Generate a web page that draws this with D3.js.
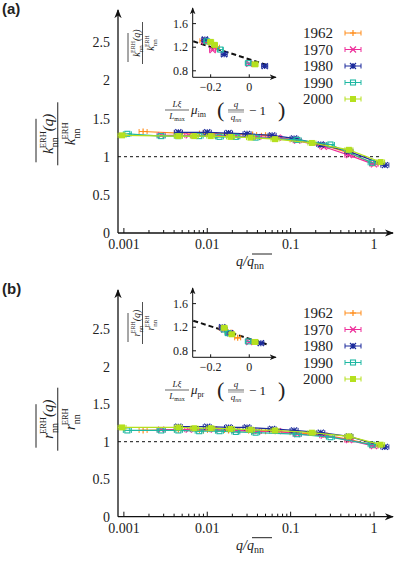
<!DOCTYPE html><html><head><meta charset="utf-8">
<script src="https://cdn.jsdelivr.net/npm/d3@7"></script>
<style>body{margin:0;background:#fff}svg text{font-family:"Liberation Serif","DejaVu Serif",serif;fill:#222}</style>
</head><body><svg id="c" width="415" height="569"></svg>
<script>
const years=["1962","1970","1980","1990","2000"];
const colors=["#ff8c1a","#ee2e9a","#1c2b9c","#1fb8a3","#b5e01e"];
const xTicks=[0.001,0.01,0.1,1], xTickLabels=["0.001","0.01","0.1","1"];
const yTicks=[0,0.5,1,1.5,2,2.5], yTickLabels=["0","0.5","1","1.5","2","2.5"];
const inYTicks=[0.8,1.2,1.6], inXTicks=[-0.2,0];
const aX=[[0.0017,0.0045,0.009,0.018,0.035,0.05,0.11,0.25,0.5,1.0],
 [0.0028,0.006,0.012,0.022,0.04,0.07,0.12,0.25,0.5,1.0],
 [0.0045,0.01,0.018,0.03,0.06,0.11,0.23,0.5,1.35],
 [0.0011,0.0028,0.0045,0.008,0.014,0.022,0.038,0.12,0.3,0.95],
 [0.00095,0.0045,0.007,0.011,0.019,0.033,0.065,0.18,0.5,1.2]];
const aY=[[1.33,1.31,1.31,1.30,1.29,1.28,1.22,1.15,1.05,0.91],
 [1.28,1.28,1.28,1.27,1.26,1.25,1.21,1.13,1.02,0.90],
 [1.32,1.32,1.31,1.30,1.28,1.24,1.16,1.07,0.89],
 [1.30,1.27,1.27,1.27,1.26,1.26,1.25,1.22,1.16,0.92],
 [1.28,1.27,1.27,1.27,1.26,1.25,1.23,1.18,1.09,0.93]];
const aInX=[[-0.24,-0.21,-0.17],[-0.23,-0.19,0.0],[-0.23,-0.13,0.08],[-0.22,-0.15,-0.005],[-0.2,-0.18,0.03]];
const aInY=[[1.31,1.28,1.2],[1.3,1.15,0.92],[1.33,1.08,0.88],[1.3,1.16,0.93],[1.29,1.24,0.91]];
const bX=aX;
const bY=[[1.15,1.16,1.15,1.15,1.14,1.14,1.12,1.09,1.03,0.95],
 [1.16,1.16,1.16,1.15,1.14,1.14,1.10,1.08,1.02,0.94],
 [1.20,1.20,1.19,1.19,1.17,1.15,1.12,1.07,0.93],
 [1.15,1.15,1.15,1.14,1.14,1.13,1.12,1.10,1.06,0.96],
 [1.19,1.19,1.18,1.18,1.17,1.16,1.15,1.12,1.07,0.96]];
const bInX=[[-0.14,-0.11,-0.06],[-0.13,-0.1,0.0],[-0.14,-0.1,0.06],[-0.13,-0.11,-0.005],[-0.13,-0.09,0.03]];
const bInY=[[1.18,1.12,1.02],[1.16,1.1,0.95],[1.2,1.1,0.93],[1.16,1.1,0.96],[1.19,1.08,0.95]];
const dashA=[[-0.29,1.30],[0.1,0.89]], dashB=[[-0.29,1.31],[0.1,0.9]];

const svg=d3.select("#c");
svg.append("defs").append("marker").attr("id","ar").attr("viewBox","0 0 10 10").attr("refX",9).attr("refY",5)
 .attr("markerWidth",7).attr("markerHeight",7).attr("orient","auto")
 .append("path").attr("d","M0,1L10,5L0,9L3,5Z").attr("fill","#111");

function marker(g,i,x,y,s){
  const c=colors[i];
  if(i===0){g.append("path").attr("d",`M${x-s},${y}H${x+s}M${x},${y-s}V${y+s}`).attr("stroke",c).attr("stroke-width",1.2);}
  else if(i===1){g.append("path").attr("d",`M${x-s},${y-s}L${x+s},${y+s}M${x-s},${y+s}L${x+s},${y-s}`).attr("stroke",c).attr("stroke-width",1.2);}
  else if(i===2){g.append("path").attr("d",`M${x-s},${y-s}L${x+s},${y+s}M${x-s},${y+s}L${x+s},${y-s}M${x-s},${y}H${x+s}M${x},${y-s}V${y+s}`).attr("stroke",c).attr("stroke-width",1.2);}
  else if(i===3){g.append("rect").attr("x",x-s+0.5).attr("y",y-s+0.5).attr("width",2*s-1).attr("height",2*s-1).attr("fill","none").attr("stroke",c).attr("stroke-width",1.1);}
  else {g.append("rect").attr("x",x-s).attr("y",y-s).attr("width",2*s).attr("height",2*s).attr("fill",c);}
}
function errbar(g,i,x,y,w){
  g.append("path").attr("d",`M${x-w},${y}H${x+w}M${x-w},${y-2.5}V${y+2.5}M${x+w},${y-2.5}V${y+2.5}`).attr("stroke",colors[i]).attr("stroke-width",1);
}
function symText(t,sym,y,fs,small,withQ){
  const n=t.append("text").attr("y",y).attr("font-size",fs).attr("font-style","italic");
  n.append("tspan").text(sym);
  n.append("tspan").attr("font-size",small).attr("font-style","normal").attr("dy",fs*0.3).text("nn");
  n.append("tspan").attr("font-size",small*0.85).attr("font-style","normal").attr("dy",-fs*0.8).attr("dx",-small*1.1).text("ERH");
  if(withQ) n.append("tspan").attr("dy",fs*0.5).text("(q)");
  return n;
}
function frac(g,x,y,sym,fs,small,lw){
  const t=g.append("g").attr("transform",`translate(${x},${y}) rotate(-90)`);
  const n=symText(t,sym,-fs*0.45,fs,small,true).attr("text-anchor","middle");
  t.append("line").attr("x1",-fs*1.9).attr("x2",fs*1.0).attr("y1",-fs*1.6).attr("y2",-fs*1.6).attr("stroke","#222").attr("stroke-width",lw);
  t.append("line").attr("x1",-fs*2.1).attr("x2",fs*2.1).attr("y1",-fs*0.15).attr("y2",-fs*0.15).attr("stroke","#222").attr("stroke-width",lw);
  symText(t,sym,fs*1.0,fs,small,false).attr("text-anchor","middle");
}

function panel(oy,letter,unit,y0,X,Y,IX,IY,dash,sym,mu){
  const g=svg.append("g");
  g.append("text").attr("x",2).attr("y",oy+14).attr("font-size",15).attr("font-weight","bold").style("font-family","Liberation Sans,Arial,sans-serif").text(letter);
  const x=d3.scaleLog().domain([0.00085,1.69]).range([118,393]);
  const y=d3.scaleLinear().domain([0,2.5]).range([y0,y0-2.5*unit]);
  g.append("line").attr("x1",118).attr("x2",393).attr("y1",y0).attr("y2",y0).attr("stroke","#111").attr("stroke-width",1.3).attr("marker-end","url(#ar)");
  g.append("line").attr("x1",118).attr("x2",118).attr("y1",y0).attr("y2",oy+10).attr("stroke","#111").attr("stroke-width",1.3).attr("marker-end","url(#ar)");
  const minor=[];
  for(let e=-3;e<=0;e++)for(let m=1;m<10;m++){const v=m*Math.pow(10,e);if(v>=0.00085&&v<=1.5)minor.push(v);}
  minor.forEach(v=>g.append("line").attr("x1",x(v)).attr("x2",x(v)).attr("y1",y0).attr("y2",y0-(xTicks.includes(v)?5:3)).attr("stroke","#111"));
  xTicks.forEach((v,i)=>g.append("text").attr("x",x(v)).attr("y",y0+16).attr("text-anchor","middle").attr("font-size",14).text(xTickLabels[i]));
  yTicks.forEach((v,i)=>g.append("text").attr("x",110).attr("y",y(v)+5).attr("text-anchor","end").attr("font-size",14).text(yTickLabels[i]));
  const xl=g.append("text").attr("x",250).attr("y",y0+33).attr("text-anchor","middle").attr("font-size",14).attr("font-style","italic");
  xl.append("tspan").text("q/");xl.append("tspan").text("q");
  xl.append("tspan").attr("font-size",10).attr("font-style","normal").attr("dy",3).text("nn");
  g.append("line").attr("x1",252).attr("x2",272).attr("y1",y0+21).attr("y2",y0+21).attr("stroke","#222");
  frac(g,60,y(1.3),sym,15,10,1);
  g.append("line").attr("x1",118).attr("x2",380).attr("y1",y(1)).attr("y2",y(1)).attr("stroke","#111").attr("stroke-dasharray","3,3");
  const line=d3.line().x(d=>x(d[0])).y(d=>y(d[1]));
  X.forEach((xs,i)=>{
    const pts=xs.map((v,j)=>[v,Y[i][j]]);
    g.append("path").attr("d",line(pts)).attr("fill","none").attr("stroke",colors[i]).attr("stroke-width",1.2);
    pts.forEach(p=>{errbar(g,i,x(p[0]),y(p[1]),4);marker(g,i,x(p[0]),y(p[1]),3);});
  });
  const ix=d3.scaleLinear().domain([-0.293,0.123]).range([192.7,273]);
  const iy=d3.scaleLinear().domain([0.69,1.6]).range([oy+77.3,oy+77.3-0.91*59]);
  g.append("line").attr("x1",192.7).attr("x2",276).attr("y1",iy(0.69)).attr("y2",iy(0.69)).attr("stroke","#111").attr("marker-end","url(#ar)");
  g.append("line").attr("x1",192.7).attr("x2",192.7).attr("y1",iy(0.69)).attr("y2",oy+8).attr("stroke","#111").attr("marker-end","url(#ar)");
  inYTicks.forEach(v=>{g.append("line").attr("x1",192.7).attr("x2",196).attr("y1",iy(v)).attr("y2",iy(v)).attr("stroke","#111");
    g.append("text").attr("x",188).attr("y",iy(v)+4).attr("text-anchor","end").attr("font-size",12).text(v.toFixed(1));});
  inXTicks.forEach(v=>{g.append("line").attr("x1",ix(v)).attr("x2",ix(v)).attr("y1",iy(0.69)).attr("y2",iy(0.69)-3).attr("stroke","#111");
    g.append("text").attr("x",ix(v)).attr("y",iy(0.69)+14).attr("text-anchor","middle").attr("font-size",12).text(v===0?"0":"\u22120.2");});
  const il=d3.line().x(d=>ix(d[0])).y(d=>iy(d[1]));
  g.append("path").attr("d",il(dash)).attr("stroke","#111").attr("stroke-width",2).attr("stroke-dasharray","5,3").attr("fill","none");
  IX.forEach((xs,i)=>xs.forEach((v,j)=>{errbar(g,i,ix(v),iy(IY[i][j]),3);marker(g,i,ix(v),iy(IY[i][j]),3);}));
  frac(g,144,oy+43,sym,10,7,0.8);
  const lb=g.append("g");
  lb.append("text").attr("x",177).attr("y",oy+107).attr("text-anchor","middle").attr("font-size",9).attr("font-style","italic").text("Lξ");
  lb.append("line").attr("x1",165).attr("x2",189).attr("y1",oy+110).attr("y2",oy+110).attr("stroke","#222").attr("stroke-width",0.7);
  const lm=lb.append("text").attr("x",177).attr("y",oy+119).attr("text-anchor","middle").attr("font-size",9).attr("font-style","italic");
  lm.append("tspan").text("L");lm.append("tspan").attr("font-size",6).attr("font-style","normal").attr("dy",2).text("max");
  const mt=lb.append("text").attr("x",191).attr("y",oy+114).attr("font-size",13).attr("font-style","italic");
  mt.append("tspan").text("μ");mt.append("tspan").attr("font-size",8).attr("font-style","normal").attr("dy",3).text(mu);
  lb.append("text").attr("x",217).attr("y",oy+117).attr("font-size",22).text("(");
  lb.append("text").attr("x",236).attr("y",oy+107).attr("text-anchor","middle").attr("font-size",9).attr("font-style","italic").text("q");
  lb.append("line").attr("x1",228).attr("x2",244).attr("y1",oy+110).attr("y2",oy+110).attr("stroke","#222").attr("stroke-width",0.7);
  lb.append("line").attr("x1",228).attr("x2",244).attr("y1",oy+112).attr("y2",oy+112).attr("stroke","#222").attr("stroke-width",0.5);
  const qd=lb.append("text").attr("x",236).attr("y",oy+120).attr("text-anchor","middle").attr("font-size",9).attr("font-style","italic");
  qd.append("tspan").text("q");qd.append("tspan").attr("font-size",6).attr("dy",2).text("nn");
  lb.append("text").attr("x",249).attr("y",oy+115).attr("font-size",13).text("− 1");
  lb.append("text").attr("x",278).attr("y",oy+117).attr("font-size",22).text(")");
  years.forEach((yr,i)=>{
    const ly=oy+33+i*16.5;
    g.append("text").attr("x",333).attr("y",ly+5).attr("text-anchor","end").attr("font-size",15).text(yr);
    errbar(g,i,353,ly,8);marker(g,i,353,ly,3);
  });
}
panel(0,"(a)",76.3,233,aX,aY,aInX,aInY,dashA,"k","im");
panel(280,"(b)",75,516.7,bX,bY,bInX,bInY,dashB,"r","pr");
</script></body></html>
